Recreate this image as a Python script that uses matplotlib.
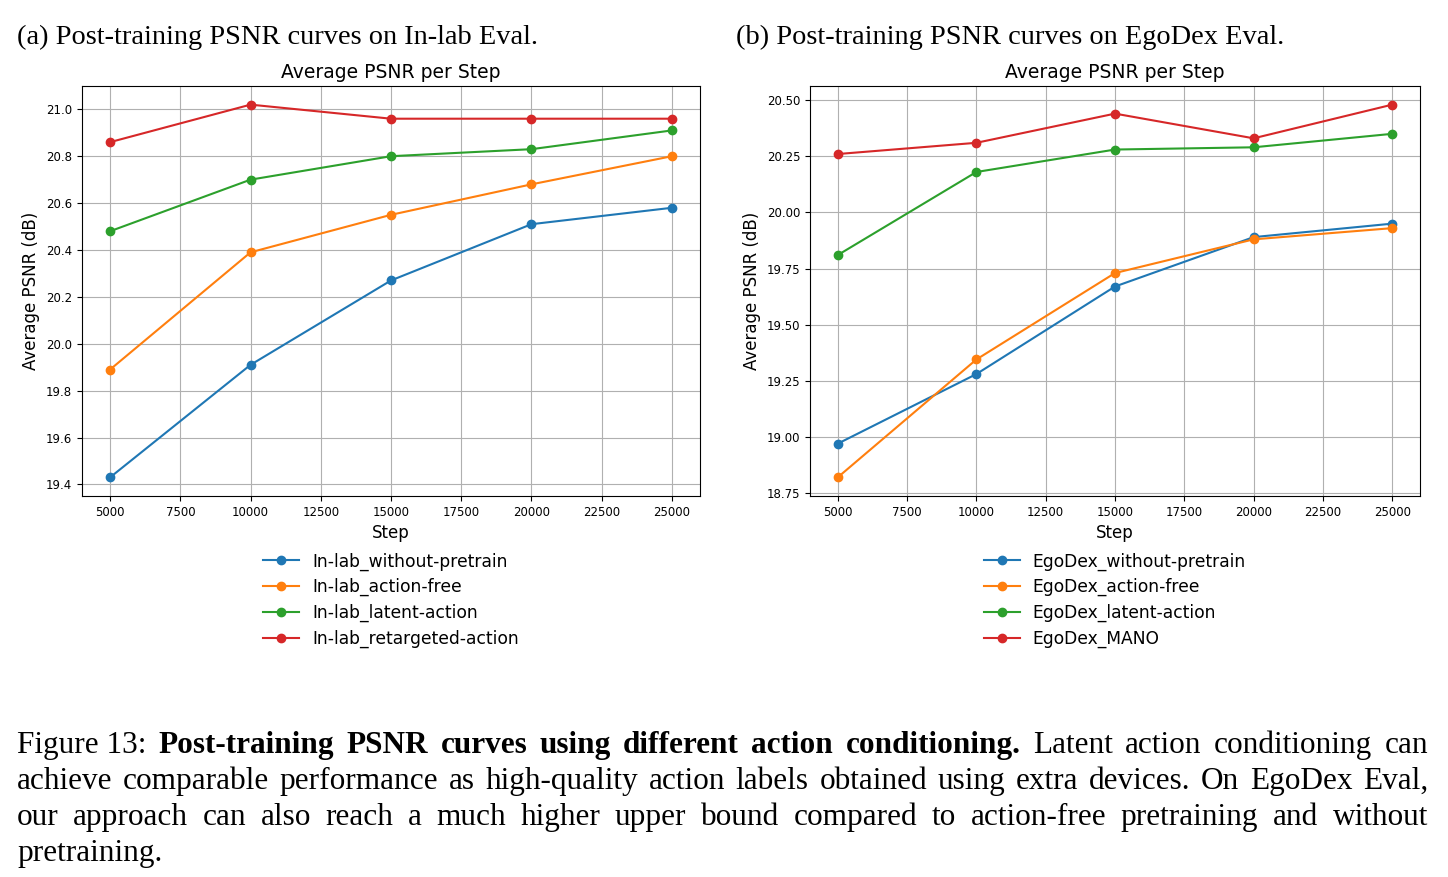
import numpy as np
import matplotlib
matplotlib.use('Agg')
import matplotlib.pyplot as plt
from matplotlib.ticker import FormatStrFormatter

# data
steps = [5000, 10000, 15000, 20000, 25000]

inlab_labels = ['In-lab_without-pretrain', 'In-lab_action-free',
                'In-lab_latent-action', 'In-lab_retargeted-action']
inlab_without = [19.43, 19.91, 20.27, 20.51, 20.58]
inlab_free = [19.89, 20.39, 20.55, 20.68, 20.80]
inlab_latent = [20.48, 20.70, 20.80, 20.83, 20.91]
inlab_retarget = [20.86, 21.02, 20.96, 20.96, 20.96]

ego_labels = ['EgoDex_without-pretrain', 'EgoDex_action-free',
              'EgoDex_latent-action', 'EgoDex_MANO']
ego_without = [18.97, 19.28, 19.67, 19.89, 19.95]
ego_free = [18.82, 19.345, 19.73, 19.88, 19.93]
ego_latent = [19.81, 20.18, 20.28, 20.29, 20.35]
ego_mano = [20.26, 20.31, 20.44, 20.33, 20.48]

subcaps = ['(a) Post-training PSNR curves on In-lab Eval.',
           '(b) Post-training PSNR curves on EgoDex Eval.']

caption_lines = [
    [('Figure 13:', 'normal'), ('Post-training', 'bold'), ('PSNR', 'bold'), ('curves', 'bold'),
     ('using', 'bold'), ('different', 'bold'), ('action', 'bold'), ('conditioning.', 'bold'),
     ('Latent', 'normal'), ('action', 'normal'), ('conditioning', 'normal'), ('can', 'normal')],
    [(w, 'normal') for w in 'achieve comparable performance as high-quality action labels obtained using extra devices. On EgoDex Eval,'.split()],
    [(w, 'normal') for w in 'our approach can also reach a much higher upper bound compared to action-free pretraining and without'.split()],
    [(w, 'normal') for w in 'pretraining.'.split()],
]

W, H = 1448, 877
fig = plt.figure(figsize=(W/100, H/100), dpi=100)

def px_axes(x0, y0, x1, y1):
    return fig.add_axes([x0/W, 1-y1/H, (x1-x0)/W, (y1-y0)/H])

ax1 = px_axes(82, 86, 700, 496)
ax2 = px_axes(810, 86, 1420, 496)

def draw(ax, series, labels, yticks, fmt):
    for vals, lab in zip(series, labels):
        ax.plot(steps, vals, marker='o', label=lab)
    ax.set_title('Average PSNR per Step', fontsize=13.5)
    ax.set_xlabel('Step', fontsize=12)
    ax.set_ylabel('Average PSNR (dB)', fontsize=12)
    ax.set_xticks(np.arange(5000, 25001, 2500))
    ax.set_yticks(yticks)
    ax.yaxis.set_major_formatter(FormatStrFormatter(fmt))
    ax.tick_params(labelsize=8.5)
    ax.grid(True)
    ax.legend(loc='upper center', bbox_to_anchor=(0.5, -0.1), frameon=False,
              fontsize=12.3, handlelength=2.1, handletextpad=0.75, labelspacing=0.44)

draw(ax1, [inlab_without, inlab_free, inlab_latent, inlab_retarget], inlab_labels,
     np.arange(19.4, 21.01, 0.2), '%.1f')
draw(ax2, [ego_without, ego_free, ego_latent, ego_mano], ego_labels,
     np.arange(18.75, 20.51, 0.25), '%.2f')

serif = 'Liberation Serif'
fig.text(17/W, 1-44/H, subcaps[0], family=serif, fontsize=20.4, va='baseline', ha='left')
fig.text(736/W, 1-44/H, subcaps[1], family=serif, fontsize=20.4, va='baseline', ha='left')

# justified caption
renderer = fig.canvas.get_renderer()
left, right = 17, 1428
cap_size = 22.5
ys = [753, 789, 825, 861]
for i, line in enumerate(caption_lines):
    texts = []
    for word, wt in line:
        t = fig.text(0, 1-ys[i]/H, word, family=serif, fontsize=cap_size,
                     weight=wt, va='baseline', ha='left')
        texts.append(t)
    widths = [t.get_window_extent(renderer).width for t in texts]
    if i < len(caption_lines) - 1 and len(texts) > 1:
        gap = (right - left - sum(widths)) / (len(texts) - 1)
    else:
        gap = cap_size * 100 / 72 * 0.25
    x = left
    for t, w in zip(texts, widths):
        t.set_x(x / W)
        x += w + gap

fig.savefig('out.png', dpi=100)
